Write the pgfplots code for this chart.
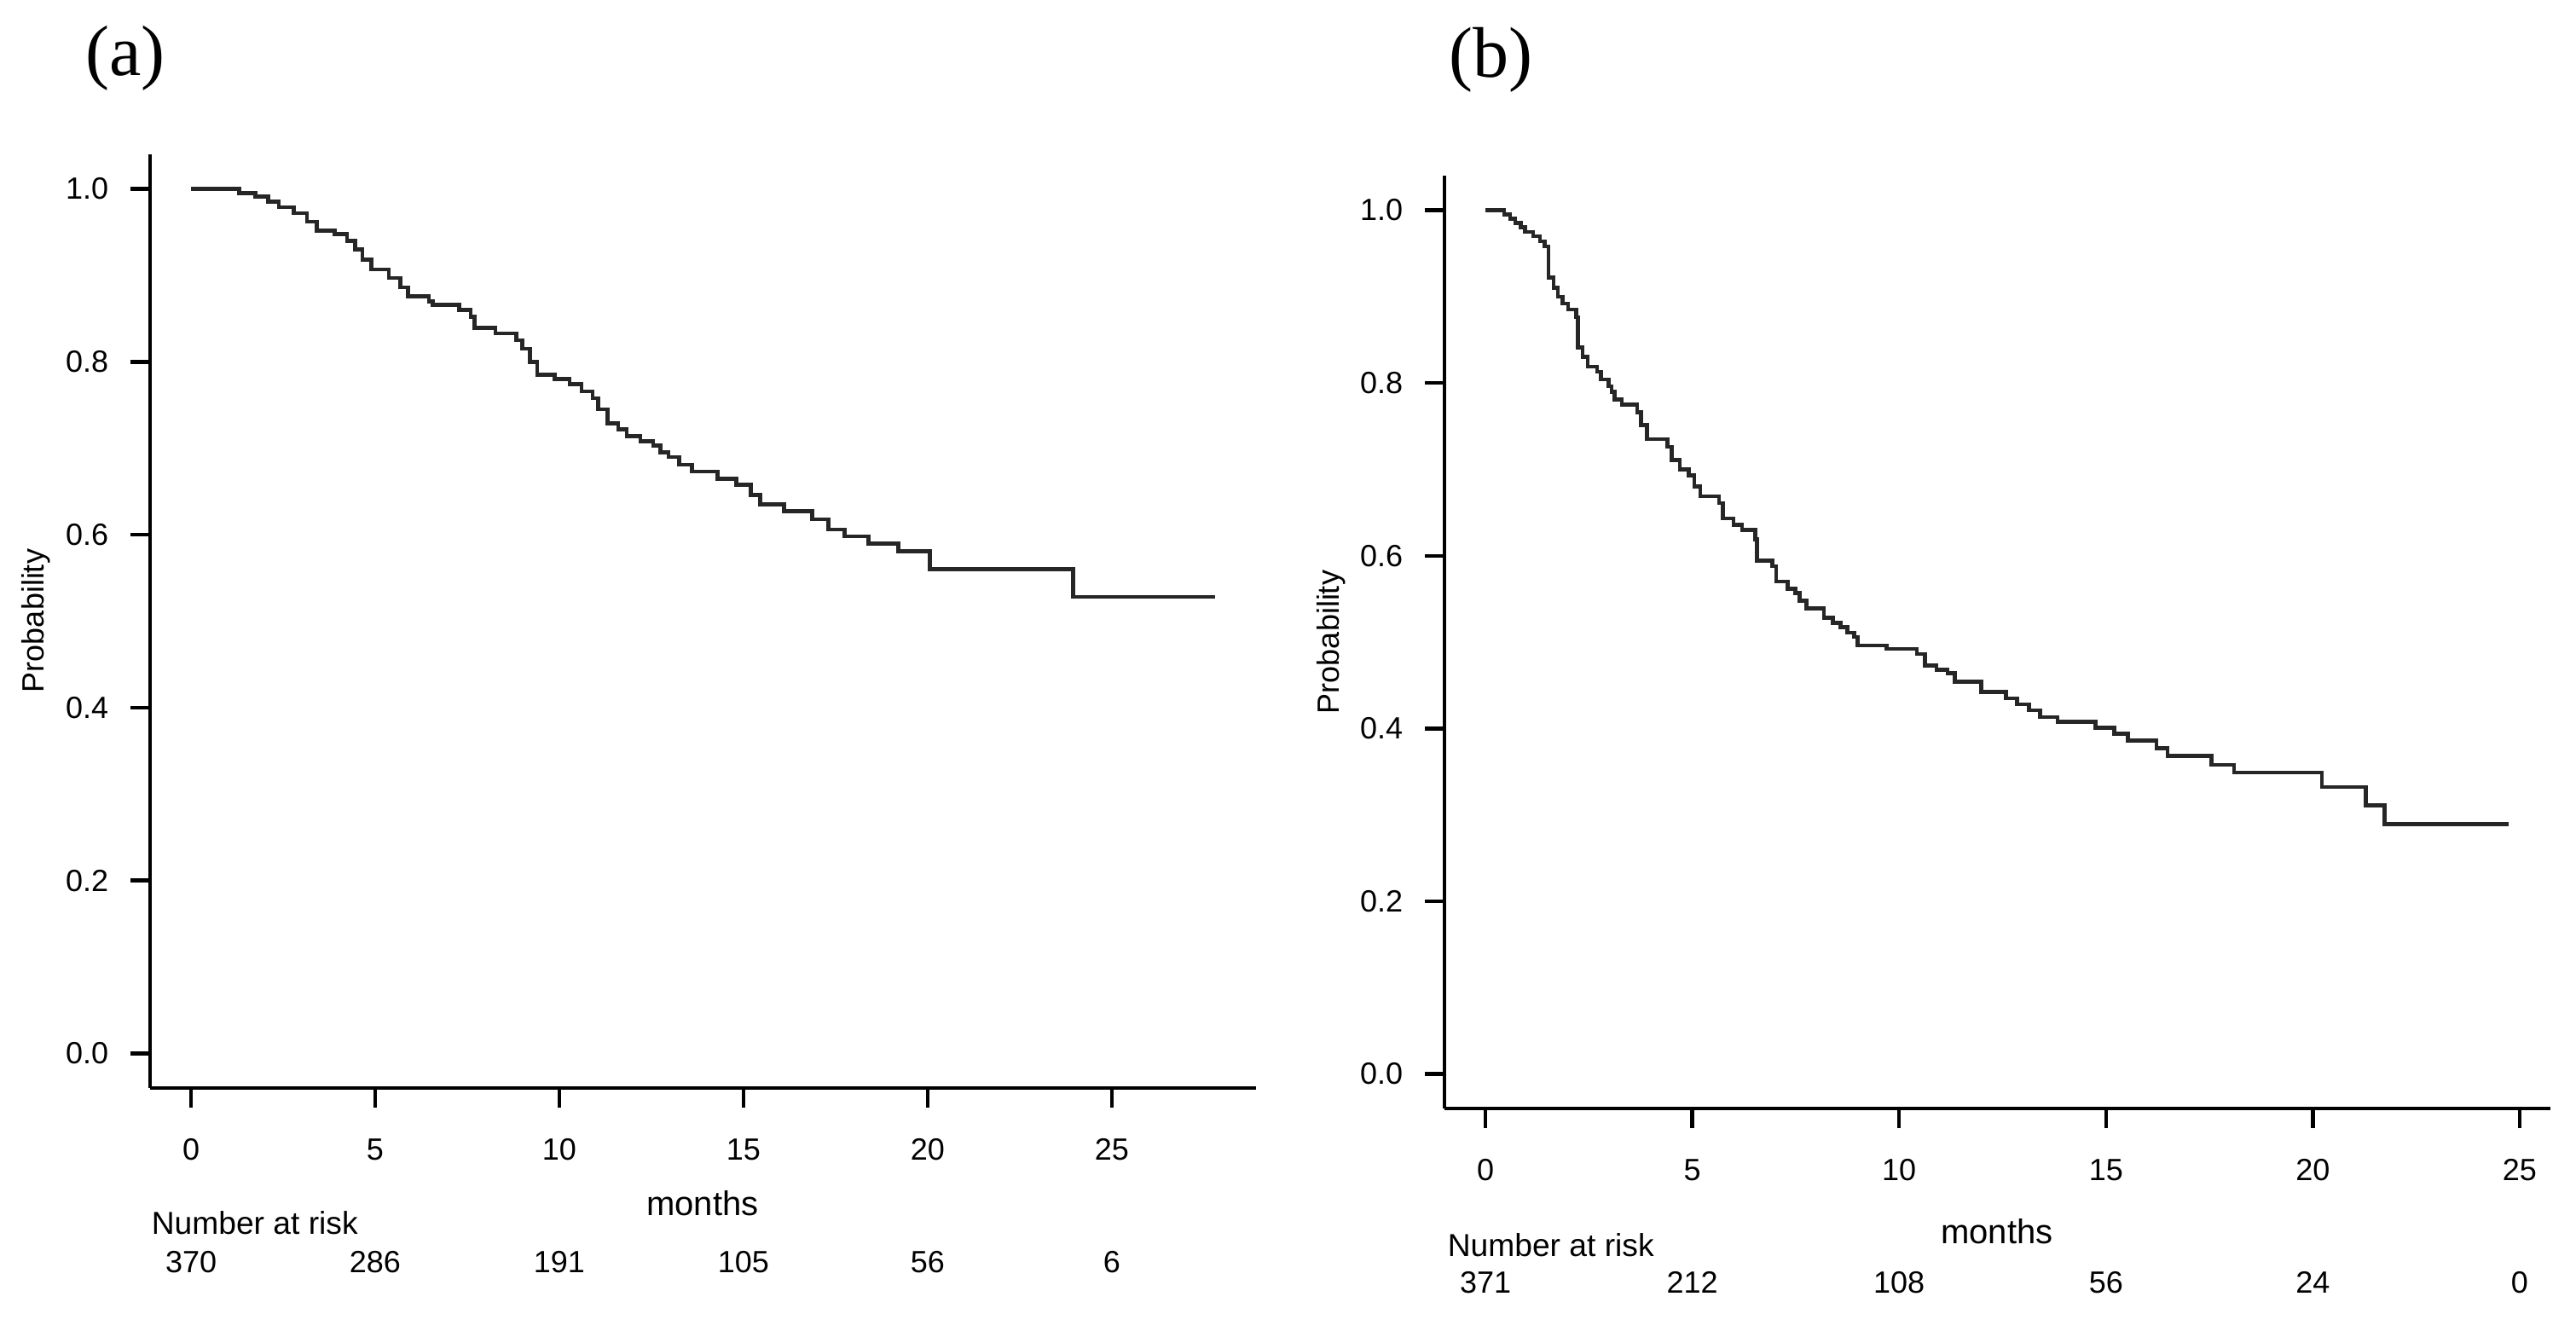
\documentclass[border=0pt]{standalone}
\usepackage{fontspec}
\setmainfont{Liberation Sans}
\newfontfamily\panelfont{Liberation Serif}
\usepackage{pgfplots}
\usepackage{pgfplotstable}
\pgfplotsset{compat=1.18}

% Kaplan-Meier estimates: time (months), survival
\pgfplotstableread{
t S
0 1.000
1.31 0.995
1.75 0.991
2.1 0.985
2.38 0.979
2.79 0.972
3.15 0.962
3.41 0.952
3.9 0.948
4.24 0.940
4.45 0.930
4.65 0.918
4.9 0.907
5.37 0.897
5.68 0.886
5.89 0.876
6.46 0.870
6.56 0.866
7.28 0.860
7.59 0.852
7.7 0.839
8.26 0.833
8.83 0.825
9.0 0.815
9.2 0.800
9.4 0.785
9.87 0.780
10.28 0.774
10.6 0.766
10.9 0.758
11.05 0.745
11.31 0.729
11.6 0.722
11.83 0.714
12.2 0.708
12.55 0.703
12.75 0.695
12.96 0.690
13.25 0.681
13.6 0.673
14.3 0.665
14.8 0.658
15.2 0.646
15.45 0.635
16.1 0.627
16.86 0.618
17.3 0.606
17.75 0.598
18.4 0.590
19.2 0.581
20.06 0.560
23.95 0.528
27.8 0.528
}\survA

\pgfplotstableread{
t S
0 1.000
0.45 0.995
0.6 0.990
0.72 0.985
0.85 0.980
0.96 0.975
1.15 0.970
1.32 0.964
1.43 0.958
1.525 0.922
1.65 0.910
1.75 0.900
1.87 0.892
2.0 0.885
2.20 0.876
2.24 0.841
2.35 0.830
2.47 0.819
2.70 0.813
2.79 0.804
2.98 0.796
3.05 0.790
3.12 0.781
3.3 0.775
3.67 0.766
3.76 0.751
3.90 0.735
4.40 0.726
4.50 0.711
4.7 0.700
4.91 0.693
5.05 0.680
5.19 0.669
5.65 0.661
5.74 0.643
6.0 0.636
6.20 0.630
6.52 0.619
6.57 0.594
6.93 0.588
7.03 0.570
7.3 0.562
7.49 0.557
7.6 0.548
7.76 0.539
8.18 0.528
8.4 0.522
8.59 0.517
8.75 0.511
8.91 0.506
9.0 0.496
9.70 0.492
10.43 0.486
10.62 0.473
10.9 0.468
11.17 0.464
11.35 0.454
11.99 0.442
12.58 0.435
12.85 0.428
13.14 0.421
13.41 0.413
13.83 0.408
14.75 0.401
15.2 0.394
15.53 0.386
16.22 0.377
16.49 0.368
17.55 0.358
18.1 0.349
20.22 0.332
21.28 0.311
21.74 0.289
24.73 0.289
}\survB

\pgfplotsset{
  kmaxis/.style={
    scale only axis,
    width=324.2pt, height=273.75pt,
    axis x line*=bottom, axis y line*=left,
    ymin=-0.04, ymax=1.04,
    xtick={0,5,10,15,20,25},
    ytick={0,0.2,0.4,0.6,0.8,1},
    tick align=outside,
    major tick length=5.75pt,
    axis line style={line width=1.15pt, black},
    every tick/.style={line width=1.1pt, black},
    tick label style={font=\fontsize{9}{10}\selectfont},
    /pgf/number format/assume math mode=true,
    xticklabel style={anchor=north, inner sep=0pt},
    yticklabel style={anchor=east, inner sep=0pt,
      /pgf/number format/.cd, fixed, fixed zerofill, precision=1},
    xticklabel shift=9pt,
    yticklabel shift=6.25pt,
    clip=false,
  },
  kmline/.style={const plot, no marks, line width=1.15pt, black!85},
}
\tikzset{risk/.style={font=\fontsize{9}{10}\selectfont, yshift=-51pt}}

\begin{document}
\begin{tikzpicture}
\path[use as bounding box] (0pt,0pt) rectangle (755.25pt,391.75pt);

% panel (a)
\begin{axis}[kmaxis, at={(44pt,72.75pt)}, anchor=south west,
  xmin=-1.112, xmax=28.912]
  \addplot[kmline] table[x=t, y=S] {\survA};
  \node[risk] at (axis cs:0,-0.04) {370};
  \node[risk] at (axis cs:5,-0.04) {286};
  \node[risk] at (axis cs:10,-0.04) {191};
  \node[risk] at (axis cs:15,-0.04) {105};
  \node[risk] at (axis cs:20,-0.04) {56};
  \node[risk] at (axis cs:25,-0.04) {6};
\end{axis}

% panel (b)
\begin{axis}[kmaxis, at={(423.5pt,66.75pt)}, anchor=south west,
  xmin=-0.99, xmax=25.74, height=273.5pt]
  \addplot[kmline] table[x=t, y=S] {\survB};
  \node[risk] at (axis cs:0,-0.04) {371};
  \node[risk] at (axis cs:5,-0.04) {212};
  \node[risk] at (axis cs:10,-0.04) {108};
  \node[risk] at (axis cs:15,-0.04) {56};
  \node[risk] at (axis cs:20,-0.04) {24};
  \node[risk] at (axis cs:25,-0.04) {0};
\end{axis}

% panel letters and labels
\node[font=\panelfont\fontsize{21}{24}\selectfont] at (36.75pt,374.75pt) {(a)};
\node[font=\panelfont\fontsize{21}{24}\selectfont] at (437pt,374.25pt) {(b)};

\node[rotate=90, font=\fontsize{9}{10}\selectfont] at (10.5pt,209.75pt) {Probability};
\node[rotate=90, font=\fontsize{9}{10}\selectfont] at (390.25pt,203.5pt) {Probability};

\node[anchor=base, font=\fontsize{10}{12}\selectfont] at (206pt,35.5pt) {months};
\node[anchor=base, font=\fontsize{10}{12}\selectfont] at (585.5pt,27.25pt) {months};

\node[anchor=base west, inner sep=0pt, font=\fontsize{9.3}{11}\selectfont] at (44.25pt,30pt) {Number at risk};
\node[anchor=base west, inner sep=0pt, font=\fontsize{9.3}{11}\selectfont] at (424.25pt,23.5pt) {Number at risk};
\end{tikzpicture}
\end{document}
